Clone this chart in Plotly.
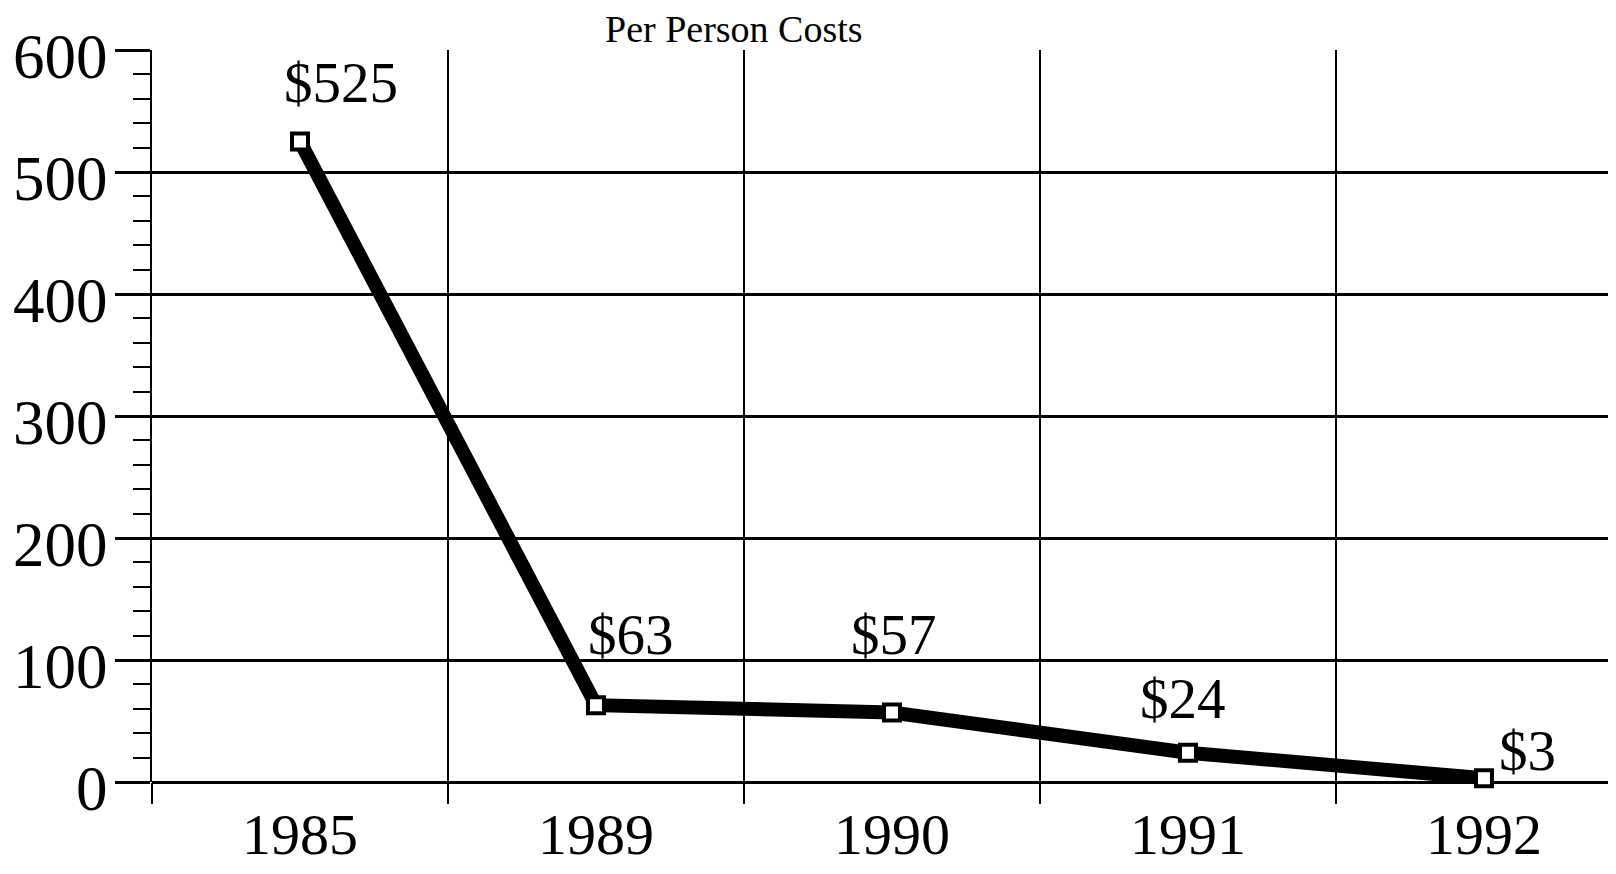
import plotly.graph_objects as go

# ---- data ----
years = ["1985", "1989", "1990", "1991", "1992"]
costs = [525, 63, 57, 24, 3]
labels = ["$525", "$63", "$57", "$24", "$3"]
title_text = "Per Person Costs"

# ---- layout constants ----
# (the page body has an 8px default margin, so the figure is 8px smaller
#  and margins are shifted to keep the plot where the reference has it)
label_offsets = [(41, 59), (35, 71), (2, 78), (-5, 54), (44, 28)]
FONT = "Liberation Serif"
x_idx = list(range(len(years)))

fig = go.Figure()
fig.add_trace(go.Scatter(
    x=x_idx, y=costs, mode="lines+markers",
    line=dict(color="black", width=14),
    marker=dict(symbol="square", size=16, color="white",
                line=dict(color="black", width=4)),
    showlegend=False, cliponaxis=False,
))

annotations = []
for xi, v, t, (dx, dy) in zip(x_idx, costs, labels, label_offsets):
    annotations.append(dict(x=xi, y=v, xref="x", yref="y", text=t,
                            showarrow=False, xshift=dx, yshift=dy,
                            font=dict(family=FONT, size=57, color="black")))
annotations.append(dict(x=0.3975, y=1, xref="paper", yref="paper",
                        text=title_text, showarrow=False,
                        xanchor="center", yanchor="bottom", yshift=-2,
                        font=dict(family=FONT, size=38, color="black")))

fig.update_layout(
    width=1608, height=866,
    margin=dict(l=144, r=0, t=42, b=92),
    paper_bgcolor="white", plot_bgcolor="white",
    annotations=annotations,
    font=dict(family=FONT, color="black"),
)
fig.update_xaxes(
    range=[-0.5, 4.446], automargin=False,
    tickmode="array", tickvals=x_idx, ticktext=years,
    ticks="", showgrid=False, zeroline=False,
    showline=False, ticklabelstandoff=13,
    tickfont=dict(family=FONT, size=58, color="black"),
    minor=dict(tick0=0.5, dtick=1, ticks="outside", ticklen=21,
               tickwidth=2, tickcolor="black", showgrid=True,
               gridcolor="black", gridwidth=2),
)
fig.update_yaxes(
    range=[0, 600], tickmode="linear", tick0=0, dtick=100, automargin=False,
    ticks="outside", ticklen=35, tickwidth=2.5, tickcolor="black",
    showgrid=True, gridcolor="black", gridwidth=2.5,
    zeroline=True, zerolinecolor="black", zerolinewidth=2.5,
    showline=True, linecolor="black", linewidth=2,
    ticklabelstandoff=-5, ticklabelshift=6,
    tickfont=dict(family=FONT, size=63, color="black"),
    minor=dict(dtick=20, ticks="outside", ticklen=17, tickwidth=2,
               tickcolor="black", showgrid=False),
)

fig.write_html("out.html")
